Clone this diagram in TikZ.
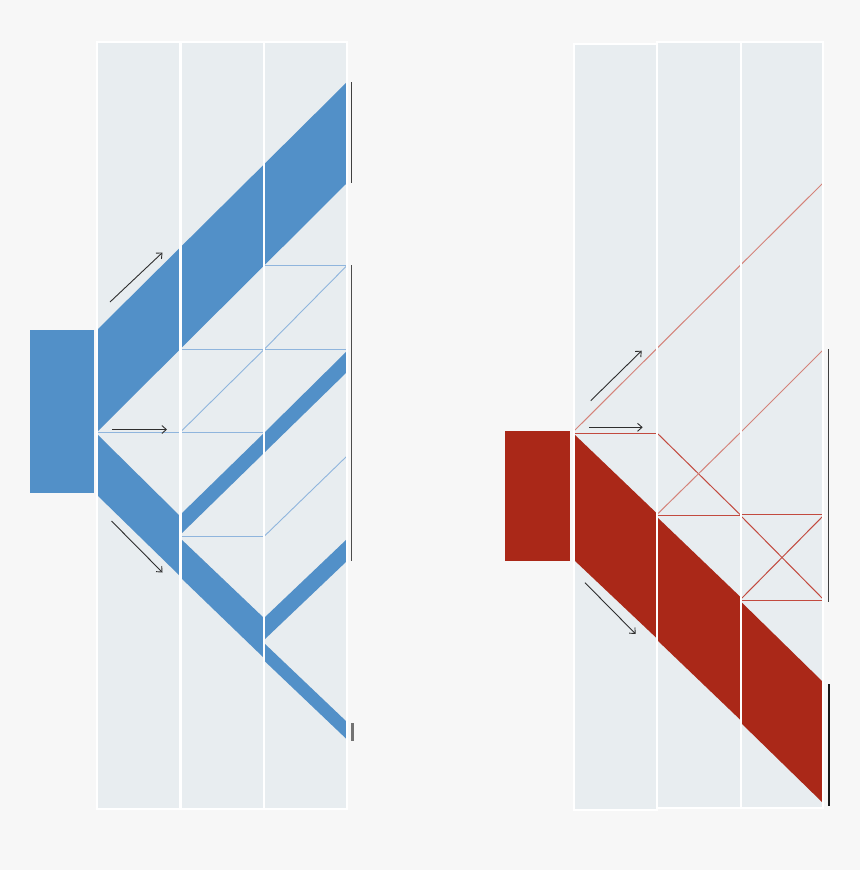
\documentclass[tikz,border=0pt]{standalone}
\usetikzlibrary{arrows.meta}
\definecolor{bgc}{HTML}{F7F7F7}
\definecolor{colc}{HTML}{E8EDF0}
\definecolor{blu}{HTML}{5290C8}
\definecolor{bluthin}{HTML}{8FB5DD}
\definecolor{redd}{HTML}{AA2818}
\definecolor{redthin}{HTML}{C24A3F}
\definecolor{redlight}{HTML}{D4837A}
\definecolor{arr}{HTML}{2E2E2E}
\begin{document}
\begin{tikzpicture}[x=1pt,y=-1pt,
  colbox/.style={fill=colc,draw=white,line width=2pt},
  sep/.style={draw=white,line width=2.3pt},
  bband/.style={fill=blu},
  rband/.style={fill=redd},
  bthin/.style={draw=bluthin,line width=0.9pt},
  rthin/.style={draw=redthin,line width=1pt},
  rlight/.style={draw=redlight,line width=1pt},
  bracket/.style={draw=#1,line width=1.8pt},
  flow/.style={draw=arr,line width=0.9pt,-{Straight Barb[length=4.5pt,width=8pt]}}]
\useasboundingbox (0,0) rectangle (860,870);
\fill[bgc] (0,0) rectangle (860,870);

% ---------- left panel ----------
\path[colbox] (97,42) rectangle (180.5,808.5);
\path[colbox] (180.5,42) rectangle (264,808.5);
\path[colbox] (264,42) rectangle (347,808.5);

\fill[blu] (30,330) rectangle (94,493);

\path[bband] (97,330) -- (347,82) -- (347,183) -- (97,432) -- cycle;
\path[bband] (97,434) -- (180,516) -- (180,576) -- (97,495) -- cycle;
\path[bband] (180,515) -- (264,433) -- (264,453) -- (180,535) -- cycle;
\path[bband] (264,433) -- (347,351) -- (347,372) -- (264,453) -- cycle;
\path[bband] (180,538) -- (264,618) -- (264,658) -- (180,577) -- cycle;
\path[bband] (264,618) -- (347,539) -- (347,561) -- (264,640) -- cycle;
\path[bband] (264,643) -- (347,722) -- (347,739.5) -- (264,660.5) -- cycle;

\draw[bthin] (97,432.5) -- (264,432.5);
\draw[bthin] (180,349.5) -- (264,349.5);
\draw[bthin] (180,432.5) -- (264,349.5);
\draw[bthin] (180,536.5) -- (264,536.5);
\draw[bthin] (264,265.5) -- (347,265.5);
\draw[bthin] (264,349.5) -- (347,265.5);
\draw[bthin] (264,349.5) -- (347,349.5);
\draw[bthin] (264,536.5) -- (347,456);

\foreach \xx in {97,180.5,264,347} \draw[sep] (\xx,42) -- (\xx,808.5);

\draw[bracket=black!75] (351.5,82) -- (351.5,183);
\draw[bracket=black!70] (351.5,265) -- (351.5,561);
\draw[bracket=black!55,line width=2.2pt] (352.5,723) -- (352.5,741);

\coordinate (la1) at (110,302);   \coordinate (lb1) at (162.5,252.5);
\coordinate (la2) at (112,429.5); \coordinate (lb2) at (167,429.5);
\coordinate (la3) at (111.5,521); \coordinate (lb3) at (162.5,572.5);
\draw[flow] (la1) -- (lb1);
\draw[flow] (la2) -- (lb2);
\draw[flow] (la3) -- (lb3);

% ---------- right panel ----------
\path[colbox] (574,44) rectangle (657,809.5);
\path[colbox] (657,41.5) rectangle (741,807.5);
\path[colbox] (741,41.5) rectangle (823,807.5);

\fill[redd] (505,431) rectangle (570,561);

\path[rband] (574,434) -- (657,513.5) -- (657,638.5) -- (574,560) -- cycle;
\path[rband] (657,517) -- (741,597.5) -- (741,720.5) -- (657,640) -- cycle;
\path[rband] (741,601.7) -- (823,682) -- (823,803) -- (741,723) -- cycle;

\draw[rlight] (574,431) -- (823,183);
\draw[rthin] (574,433) -- (657,433);
\draw[rthin] (657,433) -- (741,515.5);
\draw[rlight] (657,514.5) -- (741,432);
\draw[rlight] (741,432) -- (823,350);
\draw[rthin] (657,515.5) -- (741,515.5);
\draw[rthin] (741,514.5) -- (823,514.5);
\draw[rthin] (741,516) -- (823,599);
\draw[rthin] (741,599) -- (823,516);
\draw[rthin] (741,600.5) -- (823,600.5);

\draw[sep] (574,44) -- (574,809.5);
\foreach \xx in {657,741,823} \draw[sep] (\xx,41.5) -- (\xx,807.5);

\draw[bracket=black!75] (828.5,349) -- (828.5,602);
\draw[bracket=black!90] (829,684) -- (829,806);

\coordinate (ra1) at (590.7,400.7); \coordinate (rb1) at (641.7,350.7);
\coordinate (ra2) at (589.3,427.3); \coordinate (rb2) at (642.7,427.3);
\coordinate (ra3) at (585,582.7);   \coordinate (rb3) at (635.7,634);
\draw[flow] (ra1) -- (rb1);
\draw[flow] (ra2) -- (rb2);
\draw[flow] (ra3) -- (rb3);
\end{tikzpicture}
\end{document}
